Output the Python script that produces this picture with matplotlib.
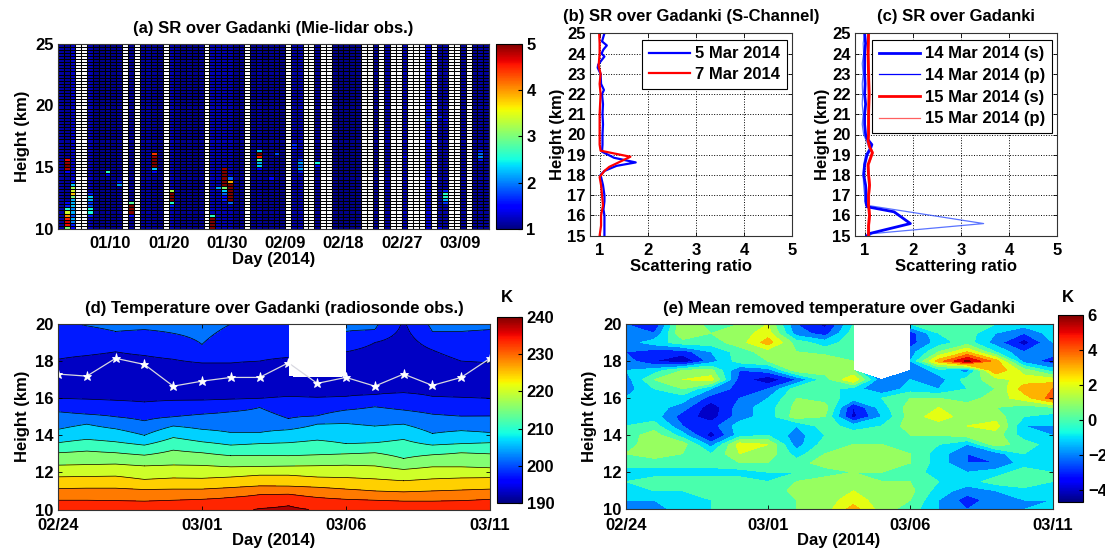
import numpy as np
import matplotlib
matplotlib.use('Agg')
import matplotlib.pyplot as plt
from matplotlib.colors import Normalize
from matplotlib.lines import Line2D
import matplotlib.cm as cm

plt.rcParams['font.family'] = ['Liberation Sans', 'DejaVu Sans']
plt.rcParams['font.weight'] = 'bold'
plt.rcParams['font.size'] = 12
plt.rcParams['axes.titleweight'] = 'bold'
plt.rcParams['axes.labelweight'] = 'bold'
plt.rcParams['axes.titlesize'] = 12
plt.rcParams['axes.labelsize'] = 12

# ---------------- (a) Mie-lidar SR ----------------
sr_tick_pos = [10, 20, 30, 40, 50, 60, 70]
sr_tick_labels = ['01/10', '01/20', '01/30', '02/09', '02/18', '02/27', '03/09']
nan = np.nan
# background SR per observation column (1..74); nan = no observation
sr_base = [1.15, 1.1, 1.25, nan, nan, 1.2, 1.05, 1.05, 1.1, 1.05,
           1.1, nan, 1.1, nan, 1.1, 1.15, 1.1, 1.05, nan, 1.2,
           1.1, 1.05, 1.1, 1.05, 1.1, nan, 1.2, 1.2, 1.2, 1.2,
           1.05, 1.1, nan, 1.05, 1.15, 1.05, 1.1, 1.1, 1.05, nan,
           1.15, 1.2, nan, nan, 1.1, nan, nan, 1.05, 1.05, 1.05,
           1.05, 1.05, nan, nan, 1.1, nan, 1.15, nan, nan, 1.2,
           nan, nan, nan, 1.35, nan, 1.15, 1.15, nan, nan, 1.1,
           nan, 1.1, 1.15, 1.1]
# enhanced SR layers: column -> list of (base height km, values upward every 0.25 km)
sr_layers = {
    2: [(10.0, [3.0, 4.6, 4.7, 4.5, 4.0, 3.4, 2.6, 1.6, 1.5]),
        (14.5, [1.5, 4.8, 5.0, 4.9, 4.6])],
    3: [(10.0, [1.5, 1.6, 2.0, 2.2, 1.8, 2.2, 2.0, 2.3, 2.2, 2.2, 3.0, 3.8, 3.4, 3.2, 2.3, 1.6])],
    6: [(11.0, [1.6, 2.5, 2.5, 1.8, 1.7, 2.2, 2.3, 1.6])],
    9: [(14.25, [1.5, 2.6])],
    11: [(13.5, [2.1, 1.6])],
    13: [(11.0, [1.5, 5.0, 5.0, 5.0, 2.8])],
    17: [(14.5, [1.5, 2.3, 5.0, 5.0, 5.0, 4.9, 4.4])],
    20: [(11.75, [1.6, 2.6, 5.0, 5.0, 5.0, 3.2])],
    27: [(10.0, [5.0, 5.0, 5.0, 5.0, 2.6])],
    28: [(13.25, [2.1])],
    29: [(12.25, [1.6, 1.5, 1.9, 2.3, 3.0, 5.0, 5.0, 5.0, 5.0, 5.0, 4.9])],
    30: [(12.0, [1.9, 5.0, 5.0, 5.0, 5.0, 5.0, 5.0, 3.9, 1.9])],
    35: [(14.75, [1.5, 2.3, 2.2, 2.8, 4.5, 5.0, 2.3])],
    37: [(14.0, [1.5])],
    38: [(16.0, [1.8])],
    41: [(16.5, [1.6, 1.7])],
    42: [(14.5, [1.6, 2.1, 1.9, 2.1, 1.7])],
    45: [(15.0, [1.5, 2.5])],
    60: [(15.75, [1.5])],
    64: [(18.75, [1.9]), (19.0, [1.6])],
    66: [(10.0, [1.5]), (19.0, [1.6])],
    67: [(12.0, [1.7, 2.2, 2.6, 2.6, 1.6]), (18.75, [1.5])],
    73: [(15.5, [1.6, 2.0, 1.9, 1.6])],
}

# ---------------- (b) S-channel SR profiles ----------------
b5_h = [15.0, 15.5, 16.0, 16.3, 16.7, 17.0, 17.5, 18.0, 18.2, 18.45, 18.62, 18.85, 19.15,
        19.5, 20.0, 20.5, 21.0, 21.5, 22.0, 22.2, 22.5, 23.0, 23.3, 23.45, 23.7, 23.85,
        24.0, 24.2, 24.4, 24.6, 25.0]
b5_v = [1.1, 1.1, 1.1, 1.08, 1.1, 1.1, 1.07, 1.02, 1.1, 1.35, 1.75, 1.3, 1.05,
        1.06, 1.06, 1.07, 1.06, 1.07, 1.05, 1.09, 1.03, 1.02, 0.96, 0.97, 1.05, 1.1,
        1.04, 1.08, 1.15, 1.05, 1.1]
b7_h = [15.0, 15.5, 16.0, 16.5, 17.0, 17.5, 17.9, 18.2, 18.4, 18.9, 19.2, 19.5, 20.0,
        21.0, 22.0, 22.5, 23.0, 23.4, 24.0, 24.5, 25.0]
b7_v = [1.0, 1.03, 1.03, 1.07, 1.05, 1.03, 1.0, 1.1, 1.2, 1.64, 1.02, 1.0, 1.0,
        1.0, 1.02, 1.0, 1.02, 0.98, 1.0, 1.0, 0.99]

# ---------------- (c) 14/15 March ----------------
c14s_h = [15.0, 15.1, 15.6, 16.18, 16.43, 16.6, 17.0, 17.5, 18.0, 18.5, 19.0, 19.3, 19.5,
          19.8, 20.0, 20.5, 21.0, 21.5, 22.0, 22.5, 23.0, 23.5, 24.0, 24.5, 25.0]
c14s_v = [1.05, 1.09, 1.95, 1.61, 1.05, 1.03, 1.03, 1.02, 0.98, 1.0, 1.05, 1.12, 1.15,
          1.05, 1.02, 1.0, 1.0, 1.02, 1.0, 1.01, 1.0, 1.0, 1.0, 1.02, 1.0]
c14p_h = [15.0, 15.1, 15.6, 16.5, 16.7, 17.0, 17.5, 18.0, 18.5, 19.0, 19.3, 19.6, 20.0,
          20.5, 21.0, 21.5, 22.0, 22.5, 23.0, 23.5, 24.0, 24.5, 25.0]
c14p_v = [1.1, 1.15, 3.47, 1.05, 1.0, 1.0, 0.98, 0.97, 0.98, 1.02, 1.1, 1.05, 0.98,
          0.95, 0.97, 0.95, 0.96, 0.95, 0.97, 0.95, 0.98, 0.97, 1.0]
c15s_h = [15.0, 15.5, 16.0, 16.5, 17.0, 17.5, 18.0, 18.5, 18.9, 19.1, 19.4, 19.7, 20.0,
          21.0, 22.0, 23.0, 24.0, 25.0]
c15s_v = [1.08, 1.08, 1.1, 1.08, 1.08, 1.1, 1.08, 1.07, 1.13, 1.16, 1.1, 1.07, 1.08,
          1.08, 1.09, 1.08, 1.07, 1.08]
c15p_h = [15.0, 15.5, 16.0, 16.5, 17.0, 17.5, 18.0, 18.5, 18.9, 19.1, 19.4, 19.7, 20.0,
          21.0, 22.0, 23.0, 24.0, 25.0]
c15p_v = [1.1, 1.1, 1.12, 1.1, 1.1, 1.12, 1.1, 1.09, 1.15, 1.18, 1.12, 1.09, 1.1,
          1.1, 1.11, 1.1, 1.09, 1.1]

# ---------------- (d) radiosonde temperature ----------------
rs_days = np.arange(16)               # 02/24 .. 03/11
rs_tick_labels = ['02/24', '03/01', '03/06', '03/11']
# heights (km) where each isotherm is crossed on each day
iso_T = [240.5, 235.75, 231.25, 226.75, 222.25, 217.75, 213.25, 208.75, 204.25, 199.75,
         195.25, 192.0, 195.25, 199.75, 203.0]
z236 = [9.8, 9.8, 9.8, 9.8, 9.8, 9.8, 9.85, 10.05, 10.2, 9.95, 9.8, 9.8, 9.8, 9.8, 9.8, 9.8]
z231 = [10.5, 10.5, 10.48, 10.45, 10.5, 10.55, 10.65, 10.8, 10.83, 10.65, 10.55, 10.5, 10.45, 10.45, 10.48, 10.55]
z227 = [11.13, 11.15, 11.15, 11.08, 11.1, 11.1, 11.18, 11.27, 11.26, 11.2, 11.1, 11.0, 10.95, 11.0, 11.05, 11.1]
z222 = [11.76, 11.78, 11.8, 11.62, 11.7, 11.68, 11.75, 11.85, 11.85, 11.75, 11.72, 11.65, 11.55, 11.65, 11.7, 11.72]
z218 = [12.39, 12.42, 12.45, 12.35, 12.4, 12.38, 12.3, 12.32, 12.34, 12.36, 12.39, 12.35, 12.16, 12.3, 12.3, 12.25]
z213 = [13.06, 13.15, 13.06, 12.93, 13.2, 13.06, 12.9, 12.92, 12.9, 12.95, 13.0, 13.06, 12.75, 12.95, 13.06, 13.0]
z209 = [13.6, 13.78, 13.65, 13.47, 13.88, 13.65, 13.47, 13.55, 13.6, 13.74, 13.55, 13.6, 13.78, 13.47, 13.55, 13.6]
z204 = [14.32, 14.6, 14.35, 14.0, 14.5, 14.32, 14.15, 14.15, 14.3, 14.6, 14.64, 14.5, 14.6, 14.1, 14.25, 14.15]
z200 = [15.27, 15.14, 15.0, 14.78, 15.0, 15.14, 15.27, 15.5, 14.9, 15.05, 15.36, 15.54, 15.36, 15.14, 15.03, 15.04]
z195lo = [15.99, 15.95, 15.88, 15.8, 15.88, 15.9, 15.95, 15.99, 16.1, 16.05, 16.1, 16.2, 16.3, 16.1, 16.05, 15.99]
z195hi = [18.1, 18.3, 18.5, 18.3, 18.1, 17.9, 17.9, 18.0, 18.2, 18.4, 18.5, 19.0, 20.3, 18.6, 18.0, 17.9]
z200hi = [20.4, 19.9, 19.6, 19.7, 19.5, 18.9, 20.0, 20.4, 20.4, 20.2, 19.6, 19.7, 20.5, 19.6, 19.6, 19.7]
rs_top_day9 = 17.15                   # balloon burst height on 03/05
trop_h = [17.30, 17.19, 18.15, 17.82, 16.65, 16.92, 17.12, 17.12, 17.91, 16.80,
          17.12, 16.65, 17.30, 16.69, 17.12, 18.15]

# ---------------- (e) mean-removed temperature (rows 10..20 km every 0.5 km) ----------------
anom_h = np.arange(10.0, 20.01, 0.5)
anom = [
    [-2, -2, -1, -0.5, 0, 0, 0.5, 1, 3, 1, 0, -1.5, -2.5, -2, -1.5, -1],
    [-1.5, -1.5, -0.5, -0.5, 0, 0, 0.5, 1, 2, 1, 0.5, -1.5, -3, -2, -1.5, -1.5],
    [-1, -0.5, -0.5, 0, 0, -0.5, 1, 1.2, 1.5, 1, 0.8, -1, -2, -1.5, -1, -1],
    [-0.5, 0, 0, 0, 0, -0.5, 0.5, 1, 1, 0.5, 0.5, -0.5, -1, 0, 0.5, -0.5],
    [-1, -1, -1, -1, -1, -0.5, -0.5, 0, 0.5, 0.5, 0, -1, -1.5, -1, 0, -0.5],
    [0, 0, 0, 0, 0.5, 0.5, 0, 1, 1, 1, 0.5, -1, -2.5, -2.5, -1, -1],
    [0.5, 1, 0.5, -0.5, 1.5, 1.2, -1, 0.5, 1, 1, 0.5, -1, -2.5, -2, -0.5, -1],
    [0, 1.2, 1, -2, 2, 1.5, -2, 0, 0.5, 0.5, 0.5, -0.5, -1.5, 1, 0, -1],
    [0, 1, -1, -4, -1, -0.5, -2, -0.5, 0, 0, 0.5, 0.5, 1, 1, -1, -1.5],
    [-0.5, 0, -2.5, -3, -1, -0.5, -1.5, 0, -1, -0.5, 1, 1, 1.5, 2, -1.5, -1.5],
    [-1, -1, -3, -4, -2, -1, 1, 0.5, -3.8, -1.5, 1, 2, 1, 1, -0.5, -1],
    [-1, -1, -2, -4.2, -2, -1, 0.8, 1, -3.5, -1, 1, 1.5, 1, 0.5, 0, 0.5],
    [-1.5, -1, -1, -3, -2.5, -1.5, 0.5, 0, -1, -0.5, 0.5, 0.5, 0, 1, 2, 4],
    [-2, -0.5, 0.5, -1.5, -3, -2.5, 0, 0, -1, -2.5, -1, -1.5, -0.5, 0.5, 3, 3.5],
    [-2, 0.5, 1.5, 2, -3, -4.3, -2.5, 0, 2.5, -2.5, -1.5, -2, 0, 1, 2, 2],
    [-1.5, -1, 0.5, 0.8, -2.5, -2, 1, 1, 0.5, nan, -2.5, -1, -2, 3.5, 1, -1],
    [-2, -3.5, -4.5, -2, 0, 0.5, 1, 1.5, 0.5, nan, -1.5, 3, 5.8, 3, -2, -3],
    [-2.5, -3, -3, -1.5, 0, 1, 0.5, 0, 0, nan, -2, 0.5, 2.5, -0.5, -2.5, -2],
    [-2, -1, 0, 0, 1, 3, 0, -1, 0, nan, -3, -1, 0, -2, -4, -1.5],
    [-1.5, -2.5, 1.5, 0.5, 1, 2, -2, -3, 0, nan, -3, -0.5, 0, -1.5, -2.5, -1],
    [-2.5, -3.5, 1.5, 0, 0.5, 1.5, -2.5, -3.8, -0.5, nan, -0.5, 0, 0.5, -0.5, -1, -1],
]

# ================= figure =================
W, H = 1105, 553
fig = plt.figure(figsize=(W / 100, H / 100), dpi=100)


def rect(l, t, r, b):
    return [l / W, 1 - b / H, (r - l) / W, (b - t) / H]


def style(ax, xpad=5):
    ax.tick_params(direction='in', top=True, right=True, length=3, width=0.6,
                   labelsize=12, pad=3)
    ax.tick_params(axis='x', pad=xpad)
    for s in ax.spines.values():
        s.set_linewidth(0.8)
        s.set_color('#333333')


jet = plt.get_cmap('jet').copy()
jet.set_bad('white')

# ---- (a)
axa = fig.add_axes(rect(58, 43.7, 489, 229))
yedges = np.linspace(10, 25, 61)
xedges = np.arange(1, len(sr_base) + 2)
C = np.tile(np.array(sr_base, float), (60, 1))
for col, layers in sr_layers.items():
    for h0, vals in layers:
        r0 = int(round((h0 - 10) / 0.25))
        C[r0:r0 + len(vals), col - 1] = vals
mesh = axa.pcolormesh(xedges, yedges, np.ma.masked_invalid(C), cmap=jet, vmin=1, vmax=5,
                      edgecolors='none', antialiased=False)
axa.hlines(yedges, xedges[0], xedges[-1], colors='k', lw=0.75, snap=True)
axa.vlines(xedges, yedges[0], yedges[-1], colors='k', lw=0.75, snap=True)
axa.set_xlim(1, len(sr_base) + 1)
axa.set_ylim(10, 25)
axa.set_xticks(sr_tick_pos)
axa.set_xticklabels(sr_tick_labels)
axa.set_yticks([10, 15, 20, 25])
style(axa)
axa.set_title('(a) SR over Gadanki (Mie-lidar obs.)', pad=8)
axa.set_xlabel('Day (2014)', labelpad=1)
axa.set_ylabel('Height (km)', labelpad=4)
caxa = fig.add_axes(rect(496, 43.7, 521.5, 229))
cba = fig.colorbar(mesh, cax=caxa, ticks=[1, 2, 3, 4, 5])
cba.ax.tick_params(labelsize=12, length=3, direction='in')
cba.outline.set_linewidth(0.8)

# ---- (b)
axb = fig.add_axes(rect(590, 33.3, 792, 235.7))
axb.plot(b5_v, b5_h, color='#0000ff', lw=1.6, label='5 Mar 2014')
axb.plot(b7_v, b7_h, color='#ff0000', lw=1.6, label='7 Mar 2014')
axb.set_xlim(0.8, 5)
axb.set_ylim(15, 25)
axb.set_xticks([1, 2, 3, 4, 5])
axb.set_yticks(range(15, 26))
axb.grid(True, ls=':', color='k', lw=0.7)
style(axb)
axb.set_title('(b) SR over Gadanki (S-Channel)', pad=9)
axb.set_xlabel('Scattering ratio', labelpad=1)
axb.set_ylabel('Height (km)', labelpad=2)
lg = axb.legend(loc='upper right', bbox_to_anchor=(0.975, 0.968), fontsize=12,
                handlelength=2.5, handletextpad=0.3, borderpad=0.4, labelspacing=0.35,
                fancybox=False, framealpha=1, borderaxespad=0)
lg.get_frame().set_edgecolor('k')
lg.get_frame().set_linewidth(0.8)

# ---- (c)
axc = fig.add_axes(rect(855, 33.3, 1057.3, 235.7))
axc.plot(c14p_v, c14p_h, color='#3050ff', lw=0.9, alpha=0.8)
axc.plot(c15p_v, c15p_h, color='#ff6060', lw=0.9)
axc.plot(c14s_v, c14s_h, color='#0000ff', lw=2.0)
axc.plot(c15s_v, c15s_h, color='#ff0000', lw=2.0)
hands = [Line2D([], [], color='#0000ff', lw=2.0), Line2D([], [], color='#0000ff', lw=0.9),
         Line2D([], [], color='#ff0000', lw=2.0), Line2D([], [], color='#ff6060', lw=0.9)]
labs = ['14 Mar 2014 (s)', '14 Mar 2014 (p)', '15 Mar 2014 (s)', '15 Mar 2014 (p)']
axc.set_xlim(0.8, 5)
axc.set_ylim(15, 25)
axc.set_xticks([1, 2, 3, 4, 5])
axc.set_yticks(range(15, 26))
axc.grid(True, ls=':', color='k', lw=0.7)
style(axc)
axc.set_title('(c) SR over Gadanki', pad=9)
axc.set_xlabel('Scattering ratio', labelpad=1)
axc.set_ylabel('Height (km)', labelpad=2)
lg = axc.legend(hands, labs, loc='upper right', bbox_to_anchor=(0.975, 0.968), fontsize=12,
                handlelength=2.5, handletextpad=0.3, borderpad=0.4, labelspacing=0.4,
                fancybox=False, framealpha=1, borderaxespad=0)
lg.get_frame().set_edgecolor('k')
lg.get_frame().set_linewidth(0.8)

# ---- (d)
axd = fig.add_axes(rect(58, 324, 490, 509.5))
zf = np.arange(10.0, 20.001, 0.05)
T = np.zeros((len(zf), len(rs_days)))
for d in rs_days:
    zmid = 0.5 * (z195lo[d] + z195hi[d])
    zk = [9.0, z236[d], z231[d], z227[d], z222[d], z218[d], z213[d], z209[d], z204[d],
          z200[d], z195lo[d], zmid, z195hi[d], z200hi[d], 21.0]
    T[:, d] = np.interp(zf, zk, iso_T)
T[zf > rs_top_day9, 9] = np.nan
Tm = np.ma.masked_invalid(T)
lv_d = 186.25 + 4.5 * np.arange(1, 13)
axd.contourf(rs_days, zf, Tm, levels=lv_d, cmap='jet', vmin=190, vmax=240)
axd.contour(rs_days, zf, Tm, levels=lv_d, colors='k', linewidths=0.5)
axd.plot(rs_days, trop_h, '-', color='#d8d8e0', lw=0.9, marker='*', ms=6.5,
         mfc='white', mec='white', mew=0.6)
axd.set_xlim(0, 15)
axd.set_ylim(10, 20)
axd.set_xticks([0, 5, 10, 15])
axd.set_xticklabels(rs_tick_labels)
axd.set_yticks(range(10, 21, 2))
style(axd, xpad=6)
axd.set_title('(d) Temperature over Gadanki (radiosonde obs.)', pad=8)
axd.set_xlabel('Day (2014)', labelpad=0)
axd.set_ylabel('Height (km)', labelpad=4)
caxd = fig.add_axes(rect(496.5, 316.7, 522, 503.3))
cbd = fig.colorbar(cm.ScalarMappable(Normalize(190, 240), 'jet'), cax=caxd,
                   ticks=range(190, 241, 10))
cbd.ax.tick_params(labelsize=12, length=3, direction='in')
cbd.outline.set_linewidth(0.8)
fig.text(507 / W, 1 - 298 / H, 'K', ha='center', va='center', fontsize=12, fontweight='bold')

# ---- (e)
axe = fig.add_axes(rect(625.7, 324, 1052.5, 509.3))
A = np.ma.masked_invalid(np.array(anom, float))
axe.contourf(rs_days, anom_h, A, levels=np.arange(-5.5, 7.0, 1.0), cmap='jet',
             vmin=-4.7, vmax=6)
axe.set_xlim(0, 15)
axe.set_ylim(10, 20)
axe.set_xticks([0, 5, 10, 15])
axe.set_xticklabels(rs_tick_labels)
axe.set_yticks(range(10, 21, 2))
style(axe, xpad=6)
axe.set_title('(e) Mean removed temperature over Gadanki', pad=8)
axe.set_xlabel('Day (2014)', labelpad=0)
axe.set_ylabel('Height (km)', labelpad=4)
caxe = fig.add_axes(rect(1058, 315, 1083, 502.3))
cbe = fig.colorbar(cm.ScalarMappable(Normalize(-4.7, 6), 'jet'), cax=caxe,
                   ticks=[-4, -2, 0, 2, 4, 6])
cbe.ax.tick_params(labelsize=12, length=3, direction='in')
cbe.outline.set_linewidth(0.8)
fig.text(1068 / W, 1 - 297 / H, 'K', ha='center', va='center', fontsize=12, fontweight='bold')

fig.savefig('out.png', dpi=100)
